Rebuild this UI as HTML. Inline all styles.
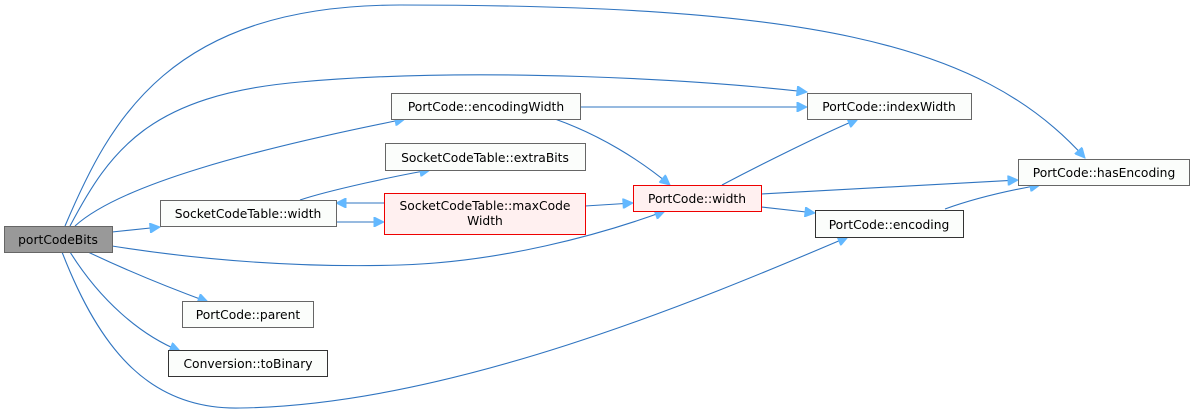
<!DOCTYPE html>
<html><head><meta charset="utf-8"><style>
html,body{margin:0;padding:0;background:#fff;width:1195px;height:414px;overflow:hidden}
svg{display:block}
text{font-family:"DejaVu Sans","Liberation Sans",sans-serif;font-size:12.3px;fill:#000}
</style></head><body>
<svg width="1195" height="414" viewBox="0 0 1195 414">
<defs>
<marker id="a" viewBox="0 0 10 10" refX="10" refY="5" markerWidth="12" markerHeight="10" markerUnits="userSpaceOnUse" orient="auto">
<path d="M0,0 L10,5 L0,10 z" fill="#63b8ff" stroke="#63b8ff"/>
</marker>
</defs>
<g fill="none" stroke="#2f74c0" stroke-width="1.1" marker-end="url(#a)">
<path d="M65,226 C110,120 170,5 400,5 C800,5 980,40 1085,158"/>
<path d="M70,226 C110,150 150,95 300,82 C480,66 700,80 807,92"/>
<path d="M75,226 C120,185 250,150 405,119"/>
<path d="M112,232 L160,227"/>
<path d="M112,246 C200,260 300,268 400,265 C500,262 600,235 665,211"/>
<path d="M62,252 C100,350 150,410 240,408 C450,405 700,300 848,237"/>
<path d="M88,252 C130,272 170,288 208,302"/>
<path d="M70,252 C100,300 140,335 180,351"/>
<path d="M300,200 C330,190 400,175 430,170"/>
<path d="M336,222 L384,222"/>
<path d="M384,203 L336,203"/>
<path d="M585,206 L633,203"/>
<path d="M580,107 L807,107"/>
<path d="M555,119 C600,135 640,160 670,185"/>
<path d="M722,185 C760,165 820,135 858,119"/>
<path d="M761,194 L1018,180"/>
<path d="M761,207 L815,213"/>
<path d="M945,209 C970,200 1000,192 1040,185"/>
</g>
<g stroke-width="1">
<rect x="4.5" y="226.5" width="108" height="26" fill="#999" stroke="#666"/>
<rect x="160.5" y="200.5" width="176" height="26" fill="#fbfdfb" stroke="#666"/>
<rect x="391.5" y="93.5" width="189" height="26" fill="#fbfdfb" stroke="#666"/>
<rect x="385.5" y="143.5" width="200" height="27" fill="#fbfdfb" stroke="#666"/>
<rect x="384.5" y="193.5" width="201" height="41" fill="#fff0f0" stroke="#e00"/>
<rect x="633.5" y="185.5" width="128" height="26" fill="#fff0f0" stroke="#e00"/>
<rect x="807.5" y="93.5" width="164" height="26" fill="#fbfdfb" stroke="#666"/>
<rect x="1018.5" y="159.5" width="171" height="26" fill="#fbfdfb" stroke="#666"/>
<rect x="815.5" y="210.5" width="148" height="27" fill="#fbfdfb" stroke="#333"/>
<rect x="182.5" y="301.5" width="131" height="26" fill="#fbfdfb" stroke="#666"/>
<rect x="168.5" y="350.5" width="159" height="26" fill="#fbfdfb" stroke="#333"/>
</g>
<g text-anchor="middle">
<text x="58" y="244">portCodeBits</text>
<text x="248" y="218">SocketCodeTable::width</text>
<text x="486" y="111">PortCode::encodingWidth</text>
<text x="485" y="162">SocketCodeTable::extraBits</text>
<text x="485" y="210">SocketCodeTable::maxCode</text>
<text x="485" y="225">Width</text>
<text x="697" y="203">PortCode::width</text>
<text x="889" y="111">PortCode::indexWidth</text>
<text x="1104" y="177">PortCode::hasEncoding</text>
<text x="889" y="229">PortCode::encoding</text>
<text x="248" y="319">PortCode::parent</text>
<text x="248" y="368">Conversion::toBinary</text>
</g>
</svg>
</body></html>
